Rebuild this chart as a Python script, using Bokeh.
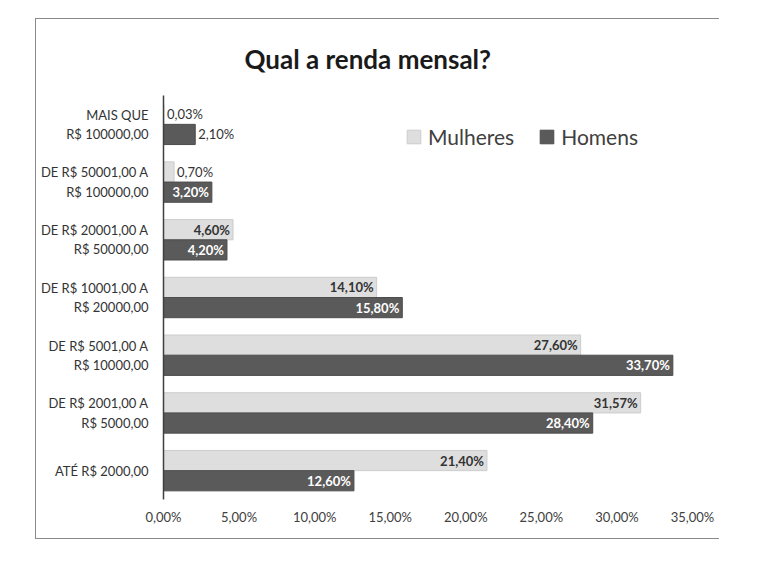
from bokeh.plotting import figure
from bokeh.models import ColumnDataSource, FixedTicker, Legend, LegendItem, Range1d
from bokeh.transform import dodge
from bokeh.embed import file_html
from bokeh.resources import INLINE
from bokeh.core.properties import value

categories = [
    "ATÉ R$ 2000,00",
    "DE R$ 2001,00 A\nR$ 5000,00",
    "DE R$ 5001,00 A\nR$ 10000,00",
    "DE R$ 10001,00 A\nR$ 20000,00",
    "DE R$ 20001,00 A\nR$ 50000,00",
    "DE R$ 50001,00 A\nR$ 100000,00",
    "MAIS QUE\nR$ 100000,00",
]
mulheres = [21.40, 31.57, 27.60, 14.10, 4.60, 0.70, 0.03]
homens = [12.60, 28.40, 33.70, 15.80, 4.20, 3.20, 2.10]
series_names = ["Mulheres", "Homens"]
x_ticks = [0, 5, 10, 15, 20, 25, 30, 35]
x_tick_labels = ["0,00%", "5,00%", "10,00%", "15,00%", "20,00%", "25,00%", "30,00%", "35,00%"]

FONT = "Lato"


def fmt(v):
    return f"{v:.2f}%".replace(".", ",")


src = ColumnDataSource(dict(cat=categories, m=mulheres, h=homens))

p = figure(
    width=684, height=521,
    y_range=categories, x_range=Range1d(0, 35),
    output_backend="svg", toolbar_location=None,
    min_border_left=127, min_border_right=28, min_border_top=0, min_border_bottom=41,
    background_fill_color="white", border_fill_color="white",
)
p.margin = (18, 0, 0, 35)
p.styles = {"border-left": "1px solid #8a8a8a", "border-top": "1px solid #8a8a8a",
            "border-bottom": "1px solid #8a8a8a"}
p.outline_line_color = None
p.xgrid.grid_line_color = None
p.ygrid.grid_line_color = None

p.title.text = "Qual a renda mensal?"
p.title.text_font = FONT
p.title.text_font_size = "26px"
p.title.text_font_style = "bold"
p.title.text_color = "#1a1a1a"
p.title.align = "left"
p.title.offset = 81
p.title.standoff = 42

DOD = 0.175
H = 0.35
rm = p.hbar(y=dodge("cat", DOD, range=p.y_range), right="m", height=H, source=src,
            fill_color="#dedede", line_color="#cccccc", line_width=1)
rh = p.hbar(y=dodge("cat", -DOD, range=p.y_range), right="h", height=H, source=src,
            fill_color="#5a5a5a", line_color="#4d4d4d", line_width=1)


def label_sources(vals):
    inside = dict(cat=[], v=[], t=[])
    outside = dict(cat=[], v=[], t=[])
    for c, v in zip(categories, vals):
        d = inside if v >= 3 else outside
        d["cat"].append(c)
        d["v"].append(v)
        d["t"].append(fmt(v))
    return ColumnDataSource(inside), ColumnDataSource(outside)


for vals, off, in_color in [(mulheres, DOD, "#333333"), (homens, -DOD, "#ffffff")]:
    ins, outs = label_sources(vals)
    p.text(x="v", y=dodge("cat", off, range=p.y_range), text="t", source=ins,
           text_align="right", text_baseline="middle", x_offset=-3,
           text_font=value(FONT), text_font_size="13px", text_font_style="bold",
           text_color=in_color)
    p.text(x="v", y=dodge("cat", off, range=p.y_range), text="t", source=outs,
           text_align="left", text_baseline="middle", x_offset=3,
           text_font=value(FONT), text_font_size="13px",
           text_color="#333333")

p.xaxis.ticker = FixedTicker(ticks=x_ticks)
p.xaxis.major_label_overrides = {t: l for t, l in zip(x_ticks, x_tick_labels)}
p.xaxis.axis_line_color = None
p.xaxis.major_tick_line_color = None
p.xaxis.minor_tick_line_color = None
p.xaxis.major_label_text_font = FONT
p.xaxis.major_label_text_font_size = "13px"
p.xaxis.major_label_text_color = "#404040"
p.xaxis.major_label_standoff = 3

p.yaxis.axis_line_color = "#404040"
p.yaxis.axis_line_width = 1.5
p.yaxis.major_tick_line_color = None
p.yaxis.minor_tick_line_color = None
p.yaxis.major_label_text_font = FONT
p.yaxis.major_label_text_font_size = "13px"
p.yaxis.major_label_text_color = "#333333"
p.yaxis.major_label_standoff = 9

legend = Legend(
    items=[LegendItem(label=series_names[0], renderers=[rm]),
           LegendItem(label=series_names[1], renderers=[rh])],
    orientation="horizontal", location=(242, 350),
    border_line_color=None, background_fill_alpha=0,
    label_text_font=FONT, label_text_font_size="21px", label_text_color="#404040",
    glyph_width=17, glyph_height=17, spacing=24, label_standoff=6,
)
p.add_layout(legend)

open("out.html", "w").write(file_html(p, INLINE))
